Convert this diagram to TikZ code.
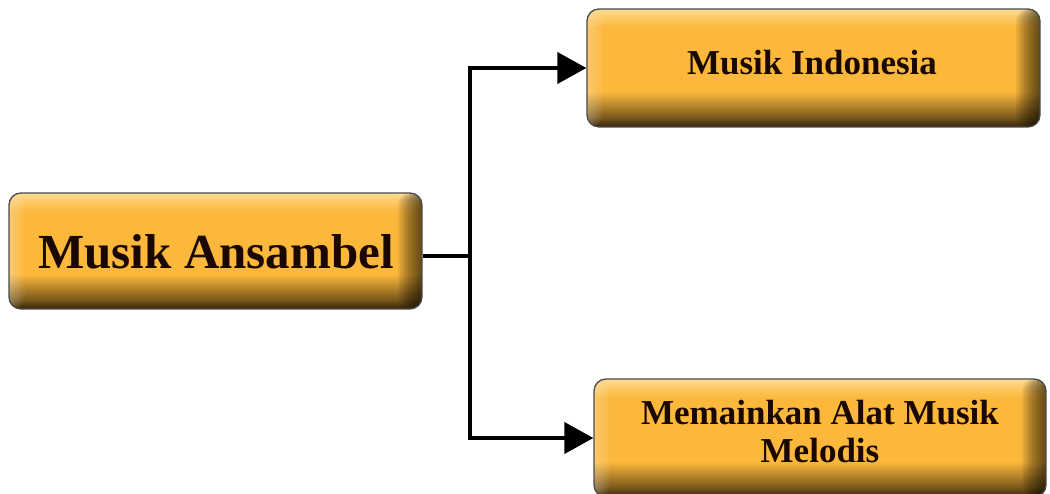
\documentclass[tikz,border=0pt]{standalone}
\usepackage{fontspec}
\setmainfont{Liberation Serif}
\usetikzlibrary{arrows.meta}
\definecolor{boxmid}{HTML}{FBB83B}
\definecolor{boxtop}{HTML}{FFDC95}
\definecolor{boxdark}{HTML}{33230A}
\definecolor{boxline}{HTML}{4A4A4A}
\definecolor{textc}{HTML}{1A0800}
\pgfdeclareverticalshading{bevel}{100bp}{color(0bp)=(boxdark); color(25bp)=(boxdark); color(29bp)=(boxdark!65!boxmid); color(34bp)=(boxmid!72!black); color(40bp)=(boxmid); color(67bp)=(boxmid); color(72bp)=(boxtop!55!boxmid); color(75bp)=(boxtop); color(100bp)=(boxtop)}
\tikzset{
  bx/.style={draw=boxline, line width=1.3pt, rounded corners=12pt, shading=bevel, inner sep=0pt,
    path picture={
      \foreach \i in {1,...,12}{
        \fill[black, fill opacity=0.065]
          ([xshift=-2*\i pt]path picture bounding box.north east) rectangle (path picture bounding box.south east);
      }
      \foreach \i in {1,...,8}{
        \fill[white, fill opacity=0.04]
          (path picture bounding box.north west) rectangle ([xshift=2*\i pt]path picture bounding box.south west);
      }
    }},
  lbl/.style={text=textc, font=\bfseries\fontsize{35}{38}\selectfont, align=center, inner sep=0pt},
  conn/.style={line width=4pt, black},
  tip/.style={-{Triangle[length=29pt,width=31pt]}}
}
\begin{document}
\begin{tikzpicture}[x=1pt,y=1pt]
\useasboundingbox (0,0) rectangle (1050,494);
\clip (0,0) rectangle (1050,494);
\node[bx, minimum width=413pt, minimum height=116pt] (b1) at (215.5,243) {};
\node[bx, minimum width=453pt, minimum height=118pt] (b2) at (813.5,426) {};
\node[bx, minimum width=452pt, minimum height=118pt] (b3) at (820,56) {};
\node[lbl, font=\bfseries\fontsize{49}{49}\selectfont] (t1) at (216,242) {Musik Ansambel};
\node[lbl] (t2) at (812,431) {Musik Indonesia};
\node[lbl] (t3) at (820,62) {Memainkan Alat Musik\\Melodis};
\coordinate (j) at (470,238);
\draw[conn] (b1.east |- j) -- (j);
\draw[conn, tip] (j) |- (b2.west);
\draw[conn, tip] (j) |- (b3.west);
\end{tikzpicture}
\end{document}
